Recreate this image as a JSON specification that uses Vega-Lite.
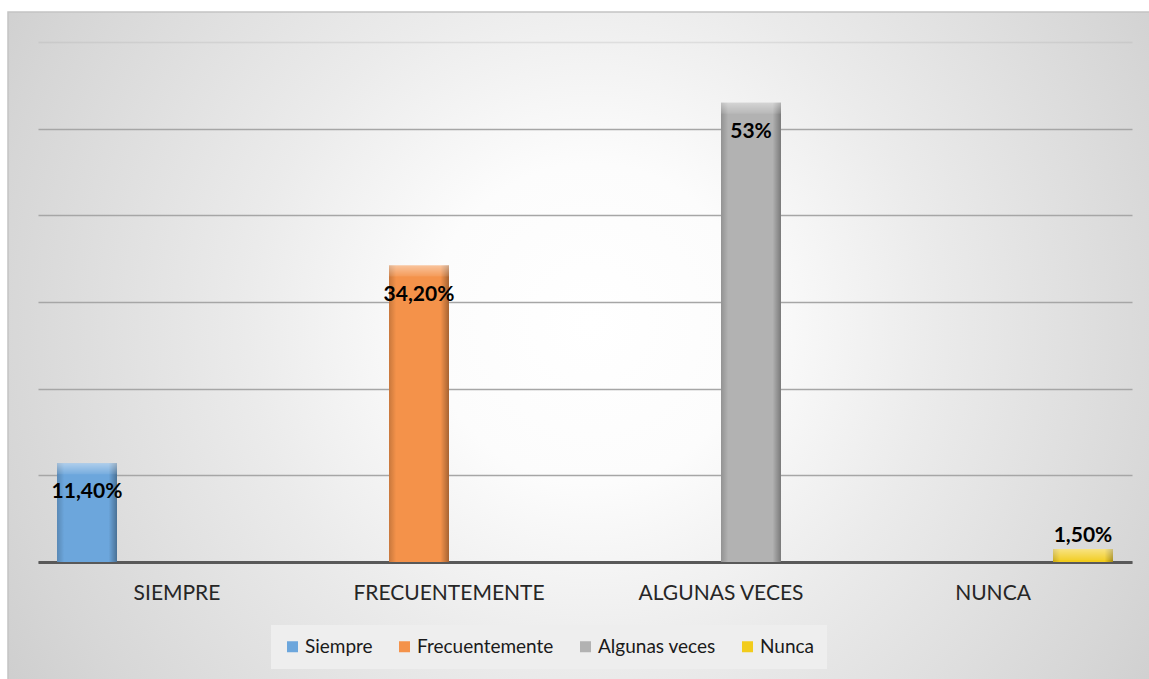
{
  "$schema": "https://vega.github.io/schema/vega-lite/v6.json",
  "width": 1143,
  "height": 669,
  "autosize": "none",
  "padding": {"left": 8, "top": 12, "right": 0, "bottom": 0},
  "background": "#ffffff",
  "config": {
    "font": "Lato",
    "view": {
      "stroke": "#c4c4c4",
      "strokeWidth": 1.5,
      "fill": {
        "gradient": "radial",
        "x1": 0.51, "y1": 0.48, "r1": 0,
        "x2": 0.51, "y2": 0.48, "r2": 0.7,
        "stops": [
          {"offset": 0, "color": "#ffffff"},
          {"offset": 0.2, "color": "#fcfcfc"},
          {"offset": 0.43, "color": "#ebebeb"},
          {"offset": 0.75, "color": "#d6d6d6"},
          {"offset": 1, "color": "#c4c4c4"}
        ]
      }
    }
  },
  "data": {
    "values": [
      {"categoria": "SIEMPRE", "serie": "Siempre", "valor": 11.4, "etiqueta": "11,40%"},
      {"categoria": "FRECUENTEMENTE", "serie": "Frecuentemente", "valor": 34.2, "etiqueta": "34,20%"},
      {"categoria": "ALGUNAS VECES", "serie": "Algunas veces", "valor": 53, "etiqueta": "53%"},
      {"categoria": "NUNCA", "serie": "Nunca", "valor": 1.5, "etiqueta": "1,50%"}
    ]
  },
  "encoding": {
    "x": {
      "field": "categoria",
      "type": "nominal",
      "sort": ["SIEMPRE", "FRECUENTEMENTE", "ALGUNAS VECES", "NUNCA"],
      "scale": {"range": [30, 1124], "paddingInner": 0, "paddingOuter": 0.011},
      "axis": {
        "title": null,
        "offset": -119,
        "labelAngle": 0,
        "labelFontSize": 21,
        "labelLimit": 0,
        "labelColor": "#262626",
        "labelPadding": 20,
        "ticks": false,
        "domainColor": "#595959",
        "domainWidth": 3,
        "grid": false
      }
    },
    "xOffset": {
      "field": "serie",
      "type": "nominal",
      "sort": ["Siempre", "Frecuentemente", "Algunas veces", "Nunca"],
      "scale": {"paddingInner": 0, "paddingOuter": 0.267}
    },
    "y": {
      "field": "valor",
      "type": "quantitative",
      "scale": {"domain": [-13.73, 63.46], "nice": false, "zero": false},
      "axis": {
        "title": null,
        "labels": false,
        "ticks": false,
        "domain": false,
        "grid": true,
        "values": [0, 10, 20, 30, 40, 50, 60],
        "gridColor": "#a6a6a6",
        "gridWidth": 1.5,
        "gridOpacity": {"condition": {"test": "datum.value === 60", "value": 0.25}, "value": 1}
      }
    }
  },
  "layer": [
    {
      "mark": {"type": "bar"},
      "encoding": {
        "y2": {"datum": 0},
        "color": {
          "field": "serie",
          "type": "nominal",
          "sort": ["Siempre", "Frecuentemente", "Algunas veces", "Nunca"],
          "scale": {
            "domain": ["Siempre", "Frecuentemente", "Algunas veces", "Nunca"],
            "range": ["#6ca6dc", "#f4924a", "#b2b2b2", "#f2cc1c"]
          },
          "legend": {
            "title": null,
            "orient": "none",
            "legendX": 263,
            "legendY": 613,
            "direction": "horizontal",
            "symbolType": "square",
            "symbolSize": 121,
            "symbolStrokeWidth": 0,
            "labelFontSize": 19,
            "labelColor": "#1a1a1a",
            "labelOffset": 3,
            "columnPadding": 22,
            "padding": 12,
            "fillColor": "#eeeeee"
          }
        }
      }
    },
    {
      "mark": {
        "type": "bar",
        "fill": {
          "gradient": "linear",
          "x1": 0, "y1": 0, "x2": 1, "y2": 0,
          "stops": [
            {"offset": 0, "color": "rgba(0,0,0,0.18)"},
            {"offset": 0.12, "color": "rgba(0,0,0,0)"},
            {"offset": 0.86, "color": "rgba(0,0,0,0)"},
            {"offset": 1, "color": "rgba(0,0,0,0.32)"}
          ]
        }
      },
      "encoding": {"y2": {"datum": 0}}
    },
    {
      "mark": {
        "type": "bar",
        "y2Offset": 11,
        "fill": {
          "gradient": "linear",
          "x1": 0, "y1": 0, "x2": 0, "y2": 1,
          "stops": [
            {"offset": 0, "color": "rgba(255,255,255,0.45)"},
            {"offset": 1, "color": "rgba(255,255,255,0.08)"}
          ]
        }
      },
      "encoding": {"y2": {"field": "valor"}}
    },
    {
      "transform": [{"filter": "datum.valor > 5"}],
      "mark": {"type": "text", "fontWeight": "bold", "fontSize": 21, "dy": 29, "baseline": "middle", "color": "#000000"},
      "encoding": {"text": {"field": "etiqueta", "type": "nominal"}}
    },
    {
      "transform": [{"filter": "datum.valor <= 5"}],
      "mark": {"type": "text", "fontWeight": "bold", "fontSize": 21, "dy": -13, "baseline": "middle", "color": "#000000"},
      "encoding": {"text": {"field": "etiqueta", "type": "nominal"}}
    }
  ]
}
